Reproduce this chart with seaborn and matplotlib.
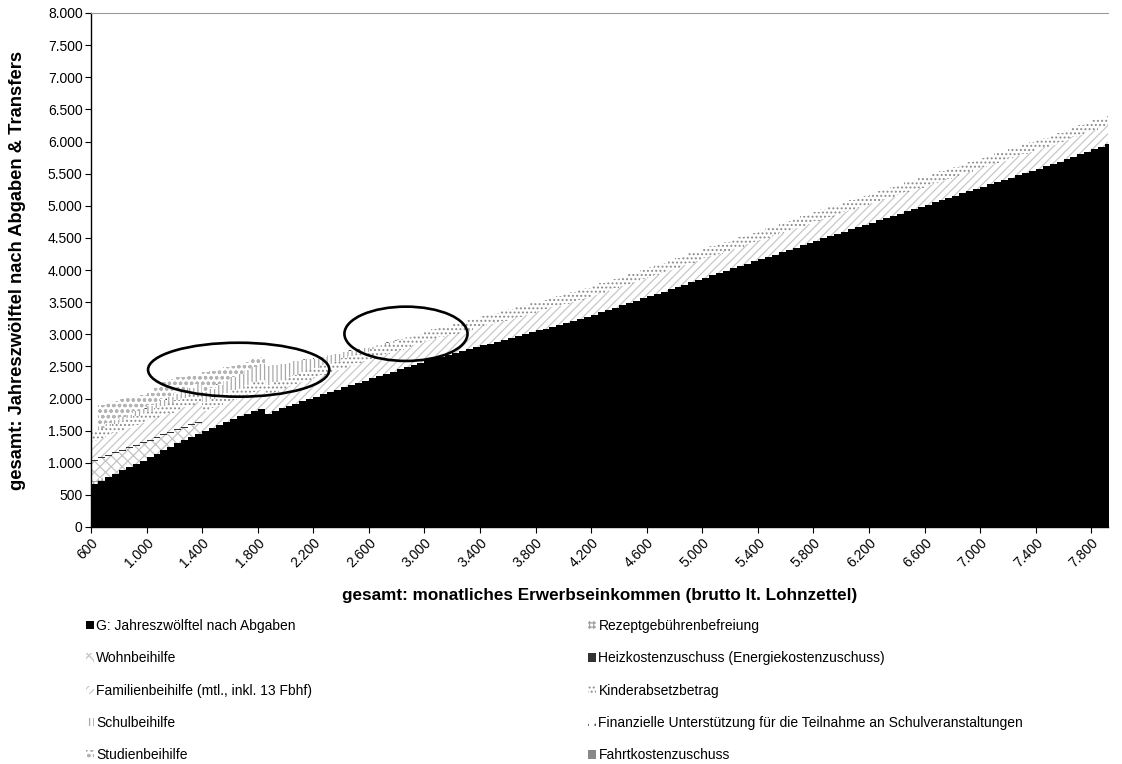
import numpy as np
import matplotlib
matplotlib.use("Agg")
import matplotlib.pyplot as plt
from matplotlib.patches import Ellipse, Patch
from matplotlib.ticker import FuncFormatter, MultipleLocator
import seaborn as sns

# --- data: monthly gross income bins (50 EUR steps) ---------------------------
income = list(range(600, 7950, 50))

net_after_tax = [
    670, 720, 775, 825, 880, 930, 985, 1035, 1090, 1140,
    1195, 1245, 1300, 1350, 1405, 1455, 1500, 1545, 1590, 1635,
    1680, 1720, 1765, 1800, 1840, 1765, 1805, 1845, 1885, 1920,
    1960, 1995, 2030, 2070, 2105, 2140, 2175, 2210, 2245, 2280,
    2315, 2350, 2385, 2420, 2455, 2490, 2525, 2560, 2595, 2624,
    2653, 2682, 2711, 2740, 2769, 2798, 2827, 2856, 2885, 2914,
    2943, 2972, 3001, 3030, 3059, 3088, 3117, 3146, 3175, 3204,
    3233, 3269, 3305, 3341, 3377, 3413, 3449, 3485, 3521, 3557,
    3593, 3629, 3665, 3701, 3737, 3773, 3809, 3845, 3881, 3917,
    3953, 3989, 4025, 4061, 4097, 4133, 4169, 4205, 4241, 4277,
    4313, 4349, 4385, 4421, 4457, 4492, 4527, 4562, 4597, 4632,
    4667, 4702, 4737, 4772, 4807, 4842, 4877, 4912, 4947, 4982,
    5017, 5052, 5087, 5122, 5157, 5192, 5227, 5262, 5297, 5332,
    5367, 5402, 5437, 5472, 5507, 5542, 5577, 5612, 5647, 5686,
    5725, 5764, 5803, 5842, 5881, 5920, 5959,
]

n = len(income)

rezeptgebuehren = [40, 40] + [0] * (n - 2)

wohnbeihilfe = [
    320, 310, 330, 320, 305, 295, 280, 270, 255, 245,
    230, 220, 205, 195, 180, 170,
] + [0] * (n - 16)

heizkosten = [15] * 16 + [0] * (n - 16)

familienbeihilfe = [300] * n

kinderabsetzbetrag = [150] * n

schulbeihilfe = [
    0, 0, 40, 50, 60, 60, 70, 70, 80, 80,
    90, 90, 100, 110, 120, 130, 150, 160, 170, 180,
    200, 210, 230, 240, 250, 285, 265, 245, 225, 210,
    190, 165, 140, 130, 125, 110, 95, 80, 65, 50,
    40, 35, 30, 25, 15, 10, 5,
] + [0] * (n - 47)

schulveranstaltungen = [0, 0] + [8] * 45 + [0] * (n - 47)

studienbeihilfe = [
    0, 365, 330, 300, 270, 250, 230, 210, 190, 220,
    270, 280, 250, 210, 180, 160, 300, 265, 230, 215,
    170, 150, 115, 110, 100,
] + [0] * (n - 25)

fahrtkosten = [0] * n

series = [
    ("G: Jahreszwölftel nach Abgaben", net_after_tax),
    ("Rezeptgebührenbefreiung", rezeptgebuehren),
    ("Wohnbeihilfe", wohnbeihilfe),
    ("Heizkostenzuschuss (Energiekostenzuschuss)", heizkosten),
    ("Familienbeihilfe (mtl., inkl. 13 Fbhf)", familienbeihilfe),
    ("Kinderabsetzbetrag", kinderabsetzbetrag),
    ("Schulbeihilfe", schulbeihilfe),
    ("Finanzielle Unterstützung für die Teilnahme an Schulveranstaltungen", schulveranstaltungen),
    ("Studienbeihilfe", studienbeihilfe),
    ("Fahrtkostenzuschuss", fahrtkosten),
]

# fill style per layer: (face colour, hatch colour, hatch pattern)
styles = [
    ("#000000", "#000000", None),
    ("#ffffff", "#a0a0a0", "++++"),
    ("#ffffff", "#c4c4c4", "xxx"),
    ("#333333", "#333333", None),
    ("#ffffff", "#c8c8c8", "////"),
    ("#ffffff", "#8c8c8c", "...."),
    ("#ffffff", "#a8a8a8", "||||"),
    ("#ffffff", "#555555", ".."),
    ("#ffffff", "#b4b4b4", "ooo"),
    ("#888888", "#888888", None),
]

# --- figure ------------------------------------------------------------------
sns.set_theme(style="white")
plt.rcParams["font.family"] = ["Liberation Sans", "DejaVu Sans"]
plt.rcParams["hatch.linewidth"] = 0.9
plt.rcParams["text.color"] = "black"
plt.rcParams["axes.labelcolor"] = "black"

fig = plt.figure(figsize=(11.22, 7.64), dpi=100)
ax = fig.add_axes([91 / 1122, 1 - 527 / 764, 1017 / 1122, 514 / 764])

edges = np.array(income + [income[-1] + 50], dtype=float)
bottom = np.zeros(n + 1)
handles = []
for (label, vals), (face, hcol, hatch) in zip(series, styles):
    v = np.array(vals + [vals[-1]], dtype=float)
    top = bottom + v
    with plt.rc_context({"hatch.color": hcol}):
        ax.fill_between(edges, bottom, top, step="post", facecolor=face,
                        edgecolor=hcol, linewidth=0, hatch=hatch)
    handles.append(Patch(facecolor=face, edgecolor=hcol, linewidth=0,
                         hatch=hatch, label=label))
    bottom = top

# highlighted regions
for cx, cy, w, h in [(1663, 2448, 1305, 840), (2867, 3007, 886, 845)]:
    ax.add_patch(Ellipse((cx, cy), w, h, fill=False, edgecolor="black",
                         linewidth=1.9, zorder=5))

ax.set_xlim(600, 7920)
ax.set_ylim(0, 8000)

fmt = FuncFormatter(lambda v, p: f"{int(v):,}".replace(",", "."))
ax.yaxis.set_major_locator(MultipleLocator(500))
ax.yaxis.set_major_formatter(fmt)
ax.set_xticks(list(range(600, 7801, 400)))
ax.xaxis.set_major_formatter(fmt)
ax.tick_params(axis="both", which="major", direction="out", length=4, width=0.8,
               color="#000000", labelsize=10, labelcolor="#000000", pad=2)
ax.tick_params(axis="x", bottom=True)
ax.tick_params(axis="y", left=True)
plt.setp(ax.get_xticklabels(), rotation=45, ha="right", rotation_mode="anchor")

ax.spines["right"].set_visible(False)
ax.spines["top"].set_color("#9a9a9a")
ax.spines["top"].set_linewidth(0.8)
for side in ["left", "bottom"]:
    ax.spines[side].set_color("#000000")
    ax.spines[side].set_linewidth(1.0)
ax.grid(False)

ax.set_xlabel("gesamt: monatliches Erwerbseinkommen (brutto lt. Lohnzettel)",
              fontsize=12.3, fontweight="bold", color="black")
ax.xaxis.set_label_coords(0.5, -(588 - 527) / 514)
ax.set_ylabel("gesamt: Jahreszwölftel nach Abgaben & Transfers",
              fontsize=13.2, fontweight="bold", color="black")
ax.yaxis.set_label_coords((26 - 91) / 1017, 0.5)

# legend: two columns, filled row by row
left_col = handles[0::2]
right_col = handles[1::2]
common = dict(loc="upper left", frameon=False, fontsize=10, handlelength=0.55,
              handleheight=0.55, handletextpad=0.2, labelspacing=1.32,
              borderaxespad=0, borderpad=0, labelcolor="black")
fig.legend(handles=left_col, bbox_to_anchor=(86 / 1122, 1 - 619 / 764), **common)
fig.legend(handles=right_col, bbox_to_anchor=(588 / 1122, 1 - 619 / 764), **common)

fig.savefig("out.png", dpi=100, facecolor="white")
